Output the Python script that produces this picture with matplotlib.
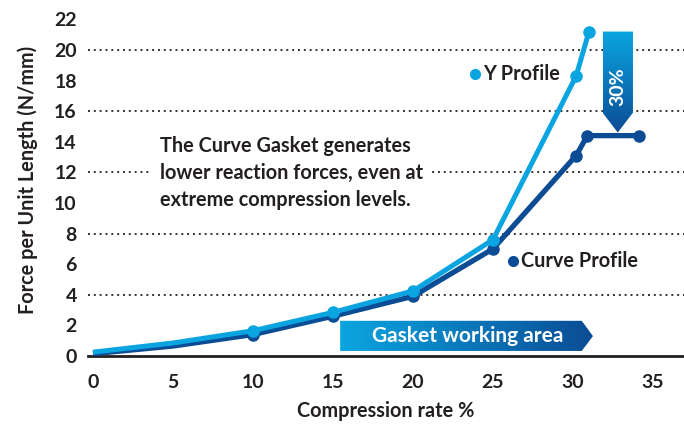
import numpy as np
import matplotlib
matplotlib.use("Agg")
import matplotlib.pyplot as plt
from matplotlib.patches import Polygon
from matplotlib.colors import LinearSegmentedColormap

# data
y_profile_x = [0, 5, 10, 15, 20, 25, 30.2, 31.0]
y_profile_y = [0.25, 0.85, 1.65, 2.85, 4.25, 7.6, 18.3, 21.2]
curve_x = [0, 5, 10, 15, 20, 25, 30.2, 30.9, 34.1]
curve_y = [0.15, 0.65, 1.4, 2.6, 3.9, 7.0, 13.1, 14.4, 14.4]
grid_levels = [4, 8, 12, 16, 20]
x_ticks = [0, 5, 10, 15, 20, 25, 30, 35]
y_ticks = [0, 2, 4, 6, 8, 10, 12, 14, 16, 18, 20, 22]

light = "#0aa5e0"
dark = "#0b4c95"
text_col = "#231f20"

plt.rcParams["font.family"] = ["Lato", "DejaVu Sans"]
W = "bold"
FS = 14.3

fig = plt.figure(figsize=(6.84, 4.25), dpi=100)
ax = fig.add_axes([88 / 684, 69 / 425, 596 / 684, 352 / 425])

ax.set_xlim(-0.31, 36.94)
ax.set_ylim(0, 23)

for lvl in grid_levels:
    ax.axhline(lvl, color="#333333", lw=1.4, ls=(0, (1, 2)), zorder=1)

ax.plot(curve_x, curve_y, color=dark, lw=3.8, marker="o", ms=8,
        markevery=list(range(2, len(curve_x))), solid_capstyle="butt", zorder=3)
ax.plot(y_profile_x, y_profile_y, color=light, lw=3.6, marker="o", ms=8,
        markevery=list(range(2, len(y_profile_x))), solid_capstyle="butt", zorder=4)

cmap = LinearSegmentedColormap.from_list("blu", [light, dark])


def gradient_shape(verts, vertical=False):
    xs = [v[0] for v in verts]
    ys = [v[1] for v in verts]
    grad = np.linspace(0, 1, 256)
    if vertical:
        img = grad[:, None]
    else:
        img = grad[None, :]
    poly = Polygon(verts, closed=True, facecolor="none", edgecolor="none")
    ax.add_patch(poly)
    im = ax.imshow(img, cmap=cmap, extent=[min(xs), max(xs), min(ys), max(ys)],
                   origin="upper" if vertical else "lower",
                   aspect="auto", zorder=5, interpolation="bilinear")
    im.set_clip_path(poly)


# gasket working area arrow
gradient_shape([(15.45, 0.33), (30.55, 0.33), (31.25, 1.3), (30.55, 2.3), (15.45, 2.3)])
ax.text(23.4, 1.3, "Gasket working area", color="white", fontsize=15,
        fontweight=W, ha="center", va="center", zorder=6)

# 30% arrow
gradient_shape([(31.85, 21.2), (33.75, 21.2), (33.75, 15.9), (32.8, 14.6), (31.85, 15.9)],
               vertical=True)
ax.text(32.8, 17.6, "30%", color="white", fontsize=14, fontweight=W,
        rotation=90, ha="center", va="center", zorder=6)

# labels next to the lines
ax.plot([23.9], [18.4], "o", color=light, ms=7, zorder=5)
ax.text(24.4, 18.4, "Y Profile", color=text_col, fontsize=FS, fontweight=W,
        va="center", ha="left", zorder=5)
ax.plot([26.25], [6.2], "o", color=dark, ms=7, zorder=5)
ax.text(26.75, 6.2, "Curve Profile", color=text_col, fontsize=FS, fontweight=W,
        va="center", ha="left", zorder=5)

ax.text(4.2, 14.4, "The Curve Gasket generates\nlower reaction forces, even at\nextreme compression levels.",
        color=text_col, fontsize=FS, fontweight=W, linespacing=1.45,
        ha="left", va="top", zorder=5,
        bbox=dict(facecolor="white", edgecolor="none", pad=6))

ax.set_xticks(x_ticks)
ax.set_yticks(y_ticks)
ax.tick_params(length=0, labelsize=14, colors=text_col)
ax.tick_params(axis="x", pad=13)
ax.tick_params(axis="y", pad=8)
for lbl in ax.get_xticklabels() + ax.get_yticklabels():
    lbl.set_fontweight(W)

for s in ["top", "right", "left"]:
    ax.spines[s].set_visible(False)
ax.spines["bottom"].set_color("#231f20")
ax.spines["bottom"].set_linewidth(2)
ax.spines["bottom"].set_zorder(2)

ax.set_xlabel("Compression rate %", fontsize=FS, fontweight=W, color=text_col, labelpad=7)
ax.set_ylabel("Force per Unit Length (N/mm)", fontsize=FS, fontweight=W, color=text_col, labelpad=12)

fig.savefig("out.png", dpi=100)
